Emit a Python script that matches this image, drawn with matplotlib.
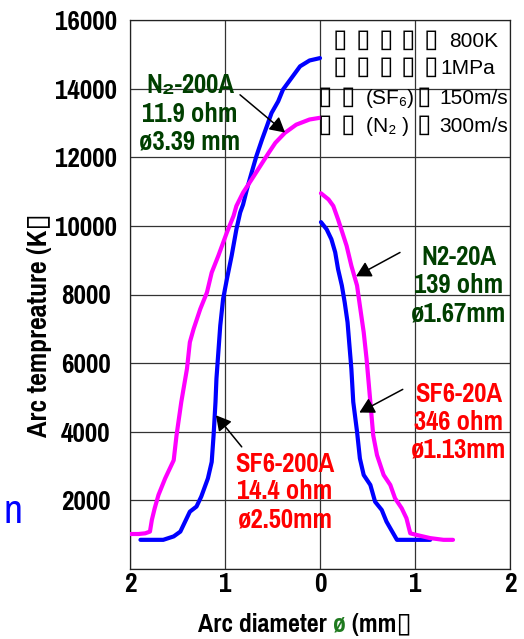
import matplotlib
matplotlib.use("Agg")
import matplotlib.pyplot as plt
from matplotlib import font_manager

# ---- radial arc temperature profiles (negative diameter = left half) ----
sf6_200a_d = [-1.89, -1.79, -1.65, -1.54, -1.47, -1.42, -1.37, -1.30, -1.25, -1.18,
              -1.14, -1.12, -1.10, -1.09, -1.07, -1.05, -1.02, -0.98, -0.93, -0.88,
              -0.84, -0.81, -0.77, -0.72, -0.67, -0.61, -0.56, -0.51, -0.44, -0.39,
              -0.30, -0.21, -0.11, 0.0]
sf6_200a_T = [850, 850, 850, 950, 1090, 1380, 1670, 1820, 2110, 2640,
              3120, 3900, 4870, 5550, 6320, 7090, 7870, 8450, 9130, 9900,
              10390, 10620, 11060, 11550, 12030, 12520, 12900, 13290, 13630, 13970,
              14310, 14650, 14820, 14890]

n2_200a_d = [-2.0, -1.91, -1.84, -1.79, -1.77, -1.74, -1.70, -1.63, -1.54, -1.51,
             -1.46, -1.40, -1.37, -1.33, -1.26, -1.19, -1.14, -1.07, -0.98, -0.91,
             -0.88, -0.81, -0.72, -0.63, -0.54, -0.47, -0.37, -0.25, -0.11, 0.0]
n2_200a_T = [1020, 1020, 1040, 1090, 1430, 1770, 2160, 2640, 3170, 3900,
             4870, 5840, 6610, 7000, 7580, 8060, 8640, 9130, 9810, 10290,
             10580, 10970, 11350, 11740, 12130, 12420, 12710, 12950, 13100, 13150]

sf6_20a_d = [0.01, 0.07, 0.12, 0.16, 0.19, 0.23, 0.26, 0.29, 0.31, 0.33, 0.35,
             0.39, 0.42, 0.46, 0.53, 0.58, 0.65, 0.70, 0.76, 0.81, 0.95, 1.16]
sf6_20a_T = [10110, 9900, 9610, 9230, 8740, 8260, 7770, 7190, 6510, 5840, 4870,
             4000, 3220, 2740, 2450, 1960, 1720, 1380, 1090, 850, 850, 850]

n2_20a_d = [0.01, 0.09, 0.14, 0.19, 0.23, 0.28, 0.33, 0.39, 0.42, 0.46, 0.49, 0.53,
            0.56, 0.60, 0.67, 0.74, 0.79, 0.86, 0.91, 0.95, 1.02, 1.16, 1.30, 1.40]
n2_20a_T = [10950, 10770, 10580, 10190, 9850, 9420, 8840, 8260, 7670, 6900, 6130, 4870,
            3900, 3320, 2740, 2450, 2060, 1770, 1480, 1040, 990, 900, 850, 850]

x_ticks = [-2, -1, 0, 1, 2]
x_tick_labels = ["2", "1", "0", "1", "2"]
y_ticks = [0, 2000, 4000, 6000, 8000, 10000, 12000, 14000, 16000]
y_tick_labels = ["", "2000", "4000", "6000", "8000", "10000", "12000", "14000", "16000"]

case_n2_200a = ["N\u2082-200A", "11.9 ohm", "\u00f83.39 mm"]
case_sf6_200a = ["SF6-200A", "14.4 ohm", "\u00f82.50mm"]
case_n2_20a = ["N2-20A", "139 ohm", "\u00f81.67mm"]
case_sf6_20a = ["SF6-20A", "346 ohm", "\u00f81.13mm"]

BOX = "\u25af"
cond_values = ["800K", "1MPa", "150m/s", "300m/s"]

# ---- fonts: pick an installed narrow sans with a bold face ----------------
_faces = font_manager.fontManager.ttflist
_bold_families = {f.name for f in _faces if (f.weight if isinstance(f.weight, int) else 400) >= 700
                  or str(f.weight) == "bold"}
narrow_name = "Liberation Sans"
for cand in ["Liberation Sans Narrow", "Arial Narrow", "Pragati Narrow", "Roboto Condensed",
             "PT Sans Narrow", "Open Sans Condensed"]:
    if cand in _bold_families:
        narrow_name = cand
        break
NARROW = [narrow_name, "Liberation Sans", "DejaVu Sans"]
REGULAR = ["Liberation Sans", "DejaVu Sans"]

W, H = 524, 639
BLUE = "#0000ff"
MAGENTA = "#ff00ff"
GREEN = "#003f00"
RED = "#ff0000"

fig = plt.figure(figsize=(W / 100, H / 100), dpi=100)
ax = fig.add_axes([130 / W, 1 - 569 / H, 380 / W, 549 / H])
renderer = fig.canvas.get_renderer()


def fx(x):
    return x / W


def fy(y):
    return 1 - y / H


def fitted_size(sample, target_px, weight="bold", family=None, base=20.0):
    """Font size at which `sample` is target_px pixels wide."""
    t = fig.text(0, 0, sample, fontsize=base, fontweight=weight, family=family or NARROW)
    bb = t.get_window_extent(renderer)
    t.remove()
    return base * target_px / bb.width


TICK_FS = fitted_size("16000", 62)
NOTE_FS = fitted_size("11.9 ohm", 95)
YLABEL_FS = fitted_size("Arc tempreature (K" + BOX, 224)
XLABEL_FS = fitted_size("Arc diameter \u00f8 (mm" + BOX, 214)
N_FS = fitted_size("n", 19, weight="normal", base=34)

ax.plot(sf6_200a_d, sf6_200a_T, color=BLUE, lw=3, solid_capstyle="round", zorder=3)
ax.plot(sf6_20a_d, sf6_20a_T, color=BLUE, lw=3, solid_capstyle="round", zorder=3)
ax.plot(n2_200a_d, n2_200a_T, color=MAGENTA, lw=3, solid_capstyle="round", zorder=4)
ax.plot(n2_20a_d, n2_20a_T, color=MAGENTA, lw=3, solid_capstyle="round", zorder=4)

ax.set_xlim(-2, 2)
ax.set_ylim(0, 16000)
ax.set_xticks(x_ticks)
ax.set_xticklabels(x_tick_labels)
ax.set_yticks(y_ticks)
ax.set_yticklabels(y_tick_labels)
ax.grid(True, color="#333333", lw=0.9, zorder=1)
ax.set_axisbelow(True)
for s in ax.spines.values():
    s.set_color("#222222")
    s.set_linewidth(0.9)

ax.tick_params(axis="both", length=0)
ax.tick_params(axis="x", pad=2)
ax.tick_params(axis="y", pad=32)
for lab in ax.get_xticklabels() + ax.get_yticklabels():
    lab.set_fontfamily(NARROW)
    lab.set_fontweight("bold")
    lab.set_fontsize(TICK_FS)
for lab in ax.get_yticklabels():
    lab.set_horizontalalignment("center")

# axis titles
fig.text(fx(40), fy(325), "Arc tempreature (K" + BOX, rotation=90, ha="center", va="center",
         fontsize=YLABEL_FS, fontweight="bold", family=NARROW)
xl_left = fig.text(fx(198), fy(632), "Arc diameter ", ha="left", va="baseline",
                   fontsize=XLABEL_FS, fontweight="bold", family=NARROW)
bb = xl_left.get_window_extent(renderer)
xl_mid = fig.text(bb.x1 / W, fy(632), "\u00f8", ha="left", va="baseline",
                  fontsize=XLABEL_FS, fontweight="bold", family=NARROW, color="#1f7a1f")
bb2 = xl_mid.get_window_extent(renderer)
fig.text(bb2.x1 / W, fy(632), " (mm" + BOX, ha="left", va="baseline",
         fontsize=XLABEL_FS, fontweight="bold", family=NARROW)


# case annotations
def block(lines, cx, baselines, color):
    for t, b in zip(lines, baselines):
        fig.text(fx(cx), fy(b), t, ha="center", va="baseline", fontsize=NOTE_FS,
                 fontweight="bold", family=NARROW, color=color)


block(case_n2_200a, 190, [93, 122, 149], GREEN)
block(case_n2_20a, 459, [265, 293, 321], GREEN)
block(case_sf6_20a, 459, [402, 430, 458], RED)
block(case_sf6_200a, 285, [472, 499, 527], RED)

arrow = dict(arrowstyle="-|>,head_length=0.9,head_width=0.5", color="black", lw=1.1,
             mutation_scale=10, shrinkA=0, shrinkB=0)
ax.annotate("", xy=(-0.368, 12720), xytext=(-0.842, 13820), arrowprops=arrow, zorder=5)
ax.annotate("", xy=(0.379, 8530), xytext=(0.842, 9225), arrowprops=arrow, zorder=5)
ax.annotate("", xy=(0.414, 4560), xytext=(0.871, 5235), arrowprops=arrow, zorder=5)
ax.annotate("", xy=(-1.095, 4480), xytext=(-0.824, 3560), arrowprops=arrow, zorder=5)


# operating conditions
def box(x, b):
    fig.text(fx(x), fy(b), BOX, ha="center", va="baseline", fontsize=19,
             family=["DejaVu Sans"], color="black")


for b in (47, 74):
    for x in (340, 363, 386, 408, 431):
        box(x, b)
for b in (104, 132):
    for x in (325, 348, 424):
        box(x, b)
fig.text(fx(366), fy(104), "(SF\u2086)", ha="left", va="baseline", fontsize=15, family=REGULAR)
fig.text(fx(366), fy(132), "(N\u2082 )", ha="left", va="baseline", fontsize=15, family=REGULAR)
for val, xr, b in zip(cond_values, (498, 495, 508, 508), (47, 74, 104, 132)):
    fig.text(fx(xr), fy(b), val, ha="right", va="baseline", fontsize=15, family=REGULAR)

fig.text(fx(3), fy(523), "n", ha="left", va="baseline", fontsize=N_FS, family=NARROW,
         color=BLUE)

fig.savefig("out.png", dpi=100)
